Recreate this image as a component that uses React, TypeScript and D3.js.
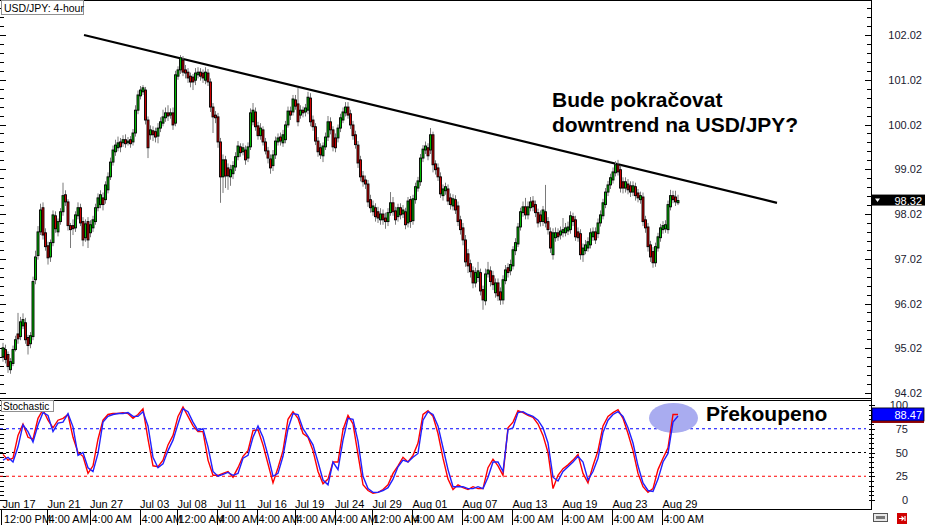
import React from 'react';
import * as d3 from 'd3';

// [open, high, low, close] per 4-hour bar
const candles: [number, number, number, number][] = [
  [94.83,95.14,94.72,95.03],[94.99,95.10,94.68,94.77],[94.88,94.95,94.47,94.61],[94.54,94.80,94.45,94.72],
  [94.68,95.08,94.62,94.99],[94.99,95.30,94.95,95.21],[95.34,95.81,95.12,95.23],[95.28,95.72,95.20,95.61],
  [95.52,95.80,95.45,95.66],[95.59,95.70,95.12,95.21],[95.26,95.32,94.88,95.08],[95.12,95.38,95.02,95.30],
  [95.28,96.62,95.20,96.51],[96.55,97.20,96.45,97.06],[97.09,97.75,97.00,97.62],[97.62,98.25,97.55,98.11],
  [98.16,98.28,97.45,97.55],[97.60,97.70,97.20,97.29],[97.31,97.40,96.89,97.04],[97.06,97.45,96.95,97.38],
  [97.38,98.10,97.30,98.00],[97.98,98.08,97.60,97.69],[97.62,97.92,97.52,97.85],[97.85,98.15,97.78,98.07],
  [98.07,98.72,97.98,98.43],[98.45,98.55,98.20,98.29],[98.29,98.35,97.65,97.76],[97.76,97.82,97.26,97.67],
  [97.76,97.90,97.55,97.69],[97.71,98.08,97.62,98.00],[97.98,98.28,97.90,98.16],[98.16,98.25,97.75,97.82],
  [97.85,97.95,97.30,97.44],[97.49,97.90,97.40,97.80],[97.85,97.95,97.26,97.44],[97.60,97.88,97.50,97.78],
  [97.71,97.98,97.62,97.89],[97.85,98.25,97.78,98.16],[98.16,98.48,98.08,98.38],[98.23,98.55,98.15,98.45],
  [98.38,98.50,98.10,98.23],[98.34,98.75,98.25,98.67],[98.56,98.95,98.48,98.85],[98.85,99.28,98.78,99.18],
  [99.18,99.55,99.10,99.45],[99.41,99.68,99.32,99.56],[99.50,99.75,99.42,99.61],[99.63,99.72,99.40,99.52],
  [99.61,99.78,99.52,99.68],[99.68,99.80,99.50,99.59],[99.61,99.74,99.55,99.65],[99.68,99.76,99.50,99.59],
  [99.63,99.92,99.55,99.83],[99.83,100.45,99.75,100.34],[100.34,100.78,100.25,100.68],[100.66,100.88,100.58,100.79],
  [100.75,100.90,100.68,100.84],[100.79,100.86,100.02,100.12],[100.12,100.20,99.27,99.50],[99.79,100.00,99.68,99.90],
  [99.88,99.98,99.65,99.79],[99.86,99.95,99.62,99.74],[99.76,100.05,99.60,99.94],[99.94,100.18,99.85,100.08],
  [100.05,100.35,99.98,100.19],[100.17,100.40,100.08,100.28],[100.28,100.45,100.10,100.21],[100.23,100.38,100.15,100.28],
  [100.28,100.40,99.90,100.01],[100.05,101.22,99.98,101.13],[101.10,101.32,101.02,101.24],[101.24,101.57,101.15,101.51],
  [101.46,101.55,101.10,101.19],[101.24,101.35,101.05,101.17],[101.19,101.28,100.95,101.06],[101.10,101.18,100.85,100.97],
  [101.08,101.15,100.79,100.97],[101.01,101.28,100.90,101.17],[101.13,101.30,101.05,101.19],[101.19,101.28,101.00,101.10],
  [101.17,101.25,100.95,101.06],[101.01,101.30,100.92,101.19],[101.17,101.26,100.88,100.97],[100.97,101.05,100.30,100.41],
  [100.41,100.50,99.83,100.19],[100.23,100.32,100.05,100.17],[100.19,100.28,99.50,99.63],[99.63,99.72,98.27,98.85],
  [98.85,99.35,98.49,99.23],[99.23,99.32,98.60,98.87],[99.05,99.15,98.56,98.87],[98.85,99.12,98.65,99.01],
  [98.92,99.20,98.80,99.10],[99.07,99.40,98.98,99.30],[99.30,99.65,99.22,99.54],[99.52,99.60,99.30,99.39],
  [99.41,99.60,99.33,99.50],[99.45,99.55,99.12,99.23],[99.27,99.62,99.18,99.52],[99.52,100.38,99.45,100.28],
  [100.08,100.50,100.00,100.34],[100.30,100.40,99.88,99.97],[99.99,100.08,99.68,99.77],[99.77,100.05,99.68,99.94],
  [99.90,99.98,99.55,99.63],[99.63,99.72,99.35,99.43],[99.43,99.52,99.15,99.27],[99.25,99.35,98.92,99.05],
  [99.10,99.45,98.98,99.34],[99.34,99.75,99.25,99.65],[99.63,99.82,99.55,99.72],[99.74,99.84,99.55,99.65],
  [99.61,99.90,99.52,99.79],[99.68,100.10,99.60,100.01],[100.01,100.42,99.95,100.32],[100.32,100.42,100.12,100.23],
  [100.30,100.68,100.22,100.59],[100.57,100.68,100.35,100.43],[100.48,100.84,99.98,100.08],[100.23,100.45,100.15,100.34],
  [100.34,100.42,100.18,100.28],[100.30,100.48,100.20,100.39],[100.34,100.75,100.25,100.63],[100.61,100.72,99.98,100.08],
  [100.12,100.22,99.88,99.97],[99.97,100.05,99.56,99.65],[99.65,99.74,99.30,99.41],[99.50,99.60,99.25,99.34],
  [99.32,99.62,99.18,99.54],[99.52,99.84,99.45,99.74],[99.74,100.21,99.65,100.08],[100.08,100.18,99.80,99.90],
  [99.90,99.98,99.42,99.52],[99.72,99.82,99.40,99.50],[99.72,100.02,99.62,99.94],[99.94,100.26,99.85,100.17],
  [100.12,100.40,100.05,100.30],[100.28,100.52,100.20,100.41],[100.41,100.52,100.15,100.23],[100.26,100.35,99.92,100.01],
  [100.01,100.10,99.68,99.77],[99.79,99.88,99.48,99.57],[99.56,99.65,99.05,99.16],[99.23,99.32,98.75,98.85],
  [98.87,98.98,98.63,98.74],[98.78,98.88,98.58,98.69],[98.69,98.78,98.18,98.29],[98.34,98.45,98.05,98.16],
  [98.07,98.32,97.98,98.20],[98.16,98.26,97.85,97.96],[98.07,98.18,97.82,97.93],[97.89,98.15,97.78,98.02],
  [98.02,98.12,97.78,97.89],[97.93,98.05,97.69,97.85],[97.85,98.15,97.75,98.05],[98.05,98.51,97.98,98.27],
  [98.27,98.40,97.98,98.07],[98.09,98.18,97.78,97.89],[97.96,98.25,97.85,98.16],[98.16,98.26,97.90,98.00],
  [98.02,98.22,97.93,98.11],[98.07,98.16,97.68,97.78],[97.82,98.40,97.72,98.31],[98.34,98.42,97.71,97.85],
  [97.87,98.45,97.78,98.36],[98.34,98.72,98.25,98.63],[98.60,98.85,98.52,98.76],[98.74,99.36,98.65,99.27],
  [99.27,99.56,99.18,99.47],[99.45,99.64,99.36,99.54],[99.50,99.60,99.22,99.32],[99.45,99.94,99.36,99.79],
  [99.79,99.86,98.95,99.12],[99.14,99.22,98.90,99.01],[99.05,99.15,98.76,98.85],[98.85,98.95,98.38,98.47],
  [98.43,98.68,98.32,98.58],[98.54,98.72,98.45,98.63],[98.58,98.68,98.22,98.31],[98.38,98.48,98.12,98.23],
  [98.20,98.46,98.10,98.36],[98.34,98.44,98.02,98.11],[98.20,98.30,97.75,97.85],[97.89,97.98,97.56,97.67],
  [97.71,97.82,97.32,97.44],[97.44,97.55,96.84,96.95],[97.13,97.24,96.70,96.86],[96.91,97.00,96.60,96.73],
  [96.75,96.85,96.36,96.48],[96.48,96.82,96.38,96.71],[96.60,96.95,96.50,96.75],[96.71,96.80,96.20,96.30],
  [96.33,96.42,95.88,96.10],[96.08,96.80,95.98,96.68],[96.68,96.95,96.60,96.77],[96.75,96.85,96.40,96.51],
  [96.64,96.75,96.32,96.44],[96.26,96.58,96.15,96.48],[96.48,96.58,96.08,96.19],[96.28,96.38,95.99,96.10],
  [96.10,96.65,96.00,96.55],[96.53,96.88,96.45,96.77],[96.82,96.92,96.60,96.71],[96.75,97.00,96.65,96.89],
  [96.86,97.30,96.78,97.22],[97.20,97.48,97.10,97.38],[97.35,97.82,97.28,97.73],[97.73,98.16,97.65,98.07],
  [98.05,98.30,97.96,98.18],[98.18,98.38,97.90,98.00],[98.00,98.30,97.90,98.18],[98.16,98.40,98.08,98.29],
  [98.31,98.42,98.08,98.18],[98.23,98.32,97.95,98.05],[98.05,98.14,97.72,97.82],[98.00,98.10,97.74,97.85],
  [97.85,98.20,97.75,98.11],[98.07,98.67,97.72,97.82],[97.85,97.95,97.56,97.67],[97.62,97.72,97.15,97.26],
  [97.11,97.70,97.00,97.60],[97.49,97.72,97.40,97.60],[97.60,97.70,97.42,97.51],[97.55,97.74,97.45,97.64],
  [97.60,97.93,97.50,97.67],[97.60,97.82,97.52,97.71],[97.64,97.85,97.55,97.73],[97.67,98.08,97.58,97.98],
  [97.96,98.05,97.75,97.85],[97.89,97.98,97.42,97.51],[97.62,97.72,97.40,97.49],[97.58,97.68,97.00,97.11],
  [97.11,97.36,96.95,97.26],[97.20,97.44,97.12,97.33],[97.26,97.50,97.18,97.40],[97.33,97.70,97.25,97.60],
  [97.51,97.72,97.42,97.62],[97.62,97.72,97.35,97.44],[97.58,97.92,97.48,97.82],[97.82,98.10,97.74,98.00],
  [97.98,98.36,97.90,98.27],[98.23,98.60,98.15,98.51],[98.51,98.76,98.42,98.67],[98.67,98.92,98.58,98.83],
  [98.78,99.06,98.70,98.96],[98.94,99.20,98.86,99.12],[99.12,99.23,98.88,98.96],[99.01,99.10,98.50,98.60],
  [98.74,98.84,98.48,98.60],[98.60,98.84,98.50,98.74],[98.69,98.80,98.46,98.56],[98.65,98.75,98.40,98.51],
  [98.51,98.75,98.42,98.65],[98.63,98.72,98.32,98.43],[98.49,98.58,98.28,98.38],[98.34,98.52,98.25,98.43],
  [98.40,98.50,97.75,97.85],[97.89,97.98,97.60,97.71],[97.73,97.82,97.18,97.29],[97.33,97.42,96.95,97.06],
  [97.18,97.28,96.82,96.93],[96.93,97.38,96.84,97.29],[97.26,97.60,97.18,97.51],[97.49,97.80,97.40,97.71],
  [97.67,97.86,97.58,97.76],[97.69,97.88,97.60,97.78],[97.67,98.32,97.58,98.23],[98.18,98.56,98.10,98.43],
  [98.43,98.54,98.26,98.34],[98.40,98.54,98.20,98.29],[98.27,98.45,98.22,98.32],
];

// Stochastic, one value every second bar
const stochMain = [
  42,45,40,56,79,72,61,79,92,89,72,81,82,91,77,47,50,34,30,49,
  82,88,90,91,91,92,88,88,93,78,45,34,38,52,63,80,96,93,82,73,
  75,56,30,25,27,29,26,28,44,47,66,78,66,47,25,28,46,75,91,90,
  75,67,58,40,21,16,40,32,63,86,85,62,25,12,8,8,10,13,22,35,
  42,40,45,49,84,93,90,78,55,32,14,14,14,12,12,14,12,24,40,40,
  30,74,76,92,93,90,88,84,76,60,24,20,30,35,40,46,40,21,30,44,
  71,84,90,93,88,76,60,36,18,10,9,22,40,49,82,88.47,
];
const stochSignal = [
  48,42,44,68,80,66,64,86,95,84,76,84,86,90,66,50,46,28,36,64,
  84,90,91,91,92,91,86,90,96,64,36,35,42,58,68,88,98,88,78,72,
  72,42,26,26,28,30,24,34,46,52,73,74,58,38,18,34,52,85,93,86,
  70,66,52,30,17,22,40,40,74,89,80,48,16,10,7,8,11,16,28,36,
  45,40,47,60,90,94,88,70,44,22,11,16,13,11,14,12,12,34,43,36,
  26,76,82,94,92,89,87,80,68,50,12,26,33,37,42,48,28,18,36,52,
  78,88,92,95,86,70,52,28,14,8,12,32,44,55,90,90,
];

const priceTickLabels = ['94.02','95.02','96.02','97.02','98.02','99.02','100.02','101.02','102.02'];
const stochTickLabels = ['0','25','50','75','100'];
const dateLabels = ['Jun 17','Jun 21','Jun 27','Jul 03','Jul 08','Jul 11','Jul 16','Jul 19','Jul 24','Jul 29','Aug 01','Aug 07','Aug 13','Aug 19','Aug 23','Aug 29'];
const timeLabels = ['12:00 PM','4:00 AM','4:00 AM','4:00 AM','12:00 AM','4:00 AM','4:00 AM','4:00 AM','4:00 AM','12:00 AM','4:00 AM','4:00 AM','4:00 AM','4:00 AM','4:00 AM','4:00 AM'];
const labelBars = [0,18,35,55,70,86,102,117,133,148,164,184,204,224,244,264];
const trendLine = [{ bar: 32.4, price: 102.02 }, { bar: 309.6, price: 98.27 }];
const lastPrice = 98.32;
const lastStoch = 88.47;

const FONT = "'Liberation Sans', Arial, sans-serif";

export default function App() {
  const W = 925, H = 525;
  const AX = 871;
  const x = d3.scaleLinear().domain([0, candles.length - 1]).range([3, 678]);
  const y = d3.scaleLinear().domain([94.02, 102.02]).range([393, 35]);
  const s = d3.scaleLinear().domain([0, 100]).range([500, 405]);
  const sx = (j: number) => x(j * 2);

  const mainLine = d3.line<number>().x((_, j) => sx(j)).y((v) => s(v));

  const minorPrice = d3.range(-1, 45).map((m) => 94.02 + m * 0.2).filter((p) => y(p) > 1 && y(p) < 397);
  const minorStoch = d3.range(0, 101, 5);

  const green = '#00b800';
  const red = '#cc0000';

  return (
    <svg width={W} height={H} style={{ position: 'absolute', left: 0, top: 0, background: '#fff' }} fontFamily={FONT}>
      <rect x={0} y={0} width={W} height={H} fill="#fff" />

      {/* frames */}
      <line x1={0} x2={AX} y1={0.5} y2={0.5} stroke="#000" />
      <line x1={0} x2={AX} y1={398.5} y2={398.5} stroke="#000" />
      <line x1={0} x2={AX} y1={400.5} y2={400.5} stroke="#000" />
      <line x1={0} x2={AX} y1={509.5} y2={509.5} stroke="#000" />
      <line x1={AX + 0.5} x2={AX + 0.5} y1={0} y2={510} stroke="#000" />

      {/* price ticks (left edge and right axis) */}
      {minorPrice.map((p, k) => {
        const major = Math.abs(((p - 94.02) % 1 + 1) % 1) < 0.01 || Math.abs(((p - 94.02) % 1 + 1) % 1 - 1) < 0.01;
        const yy = Math.round(y(p)) + 0.5;
        return (
          <g key={'pt' + k}>
            <line x1={0} x2={major ? 6 : 4} y1={yy} y2={yy} stroke="#000" />
            <line x1={AX - (major ? 6 : 4)} x2={AX} y1={yy} y2={yy} stroke="#000" />
          </g>
        );
      })}
      {priceTickLabels.map((t) => (
        <text key={t} x={922} y={y(+t) + 4} fontSize={11} textAnchor="end" fill="#1a1a30">{t}</text>
      ))}

      {/* stochastic ticks */}
      {minorStoch.map((v) => {
        const yy = Math.round(s(v)) + 0.5;
        const major = v % 25 === 0;
        return (
          <g key={'st' + v}>
            <line x1={0} x2={major ? 6 : 4} y1={yy} y2={yy} stroke="#000" />
            <line x1={AX - 2} x2={AX + (major ? 4 : 3)} y1={yy} y2={yy} stroke="#000" />
          </g>
        );
      })}
      {stochTickLabels.map((t) => (
        <text key={'sl' + t} x={908} y={s(+t) + 4} fontSize={11} textAnchor="end" fill="#1a1a30">{t}</text>
      ))}

      {/* trend line */}
      <line
        x1={x(trendLine[0].bar)} y1={y(trendLine[0].price)}
        x2={x(trendLine[1].bar)} y2={y(trendLine[1].price)}
        stroke="#000" strokeWidth={2.2}
      />

      {/* candles */}
      <g>
        {candles.map((c, i) => (
          <line key={'w' + i} x1={x(i)} x2={x(i)} y1={y(c[1])} y2={y(c[2])} stroke="#7a7a7a" strokeWidth={1} />
        ))}
        {candles.map((c, i) => {
          const top = y(Math.max(c[0], c[3]));
          const bot = y(Math.min(c[0], c[3]));
          return (
            <rect key={'b' + i} x={x(i) - 1} width={2} y={top} height={Math.max(1, bot - top)}
              fill={c[3] >= c[0] ? green : red} stroke="#000" strokeWidth={0.9} />
          );
        })}
      </g>

      {/* last price tag */}
      <rect x={AX + 1} y={y(lastPrice) - 6} width={W - AX - 1} height={11} fill="#000" />
      <path d={`M${AX + 4},${y(lastPrice) - 2} h5 l-2.5,3.5 z`} fill="#fff" />
      <text x={922} y={y(lastPrice) + 4} fontSize={11} textAnchor="end" fill="#fff">{lastPrice.toFixed(2)}</text>

      {/* annotation */}
      <text x={552} y={107} fontSize={21} fontWeight="bold" fill="#000">Bude pokračovat</text>
      <text x={552} y={132} fontSize={21} fontWeight="bold" fill="#000">downtrend na USD/JPY?</text>

      {/* title */}
      <rect x={1.5} y={0.5} width={82} height={14} fill="#fff" stroke="#909090" />
      <text x={4} y={11.5} fontSize={10.5} fill="#000">USD/JPY: 4-hour</text>

      {/* stochastic levels */}
      <line x1={0} x2={866} y1={s(75)} y2={s(75)} stroke="#0000ff" strokeDasharray="3,3" />
      <line x1={0} x2={866} y1={s(50)} y2={s(50)} stroke="#000" strokeDasharray="3,3" />
      <line x1={0} x2={866} y1={s(25)} y2={s(25)} stroke="#ff0000" strokeDasharray="3,3" />

      <ellipse cx={sx(stochMain.length - 1) - 4.5} cy={s(lastStoch) + 2} rx={24.5} ry={15} fill="#a9acf0" />

      <path d={mainLine(stochSignal) || ''} fill="none" stroke="#ff0000" strokeWidth={1.4} />
      <path d={mainLine(stochMain) || ''} fill="none" stroke="#2020ff" strokeWidth={1.4} />

      <text x={706} y={421} fontSize={21} fontWeight="bold" fill="#000">Překoupeno</text>

      <rect x={1.5} y={400.5} width={52} height={11} fill="#fff" stroke="#909090" />
      <text x={3} y={409.5} fontSize={10} fill="#000">Stochastic</text>

      {/* stochastic value tag */}
      <rect x={AX + 1} y={s(lastStoch) - 8} width={W - AX - 2} height={13} fill="#0000ff" stroke="#000" strokeWidth={0.8} />
      <rect x={AX + 1} y={s(lastStoch) + 5} width={W - AX - 2} height={2} fill="#8b0000" />
      <text x={922} y={s(lastStoch) + 3} fontSize={11} textAnchor="end" fill="#fff">{lastStoch.toFixed(2)}</text>

      {/* date labels */}
      {dateLabels.map((d, k) => (
        <text key={'d' + k} x={x(labelBars[k]) - 0.5} y={508} fontSize={11} fill="#000">{d}</text>
      ))}
      {timeLabels.map((t, k) => {
        const xx = k === 0 ? 1.5 : Math.round(x(labelBars[k]) - 1) + 0.5;
        return (
          <g key={'t' + k}>
            <line x1={xx} x2={xx} y1={510} y2={525} stroke="#000" />
            <text x={k === 0 ? 4 : xx + 1} y={523} fontSize={11} fill="#000">{t}</text>
          </g>
        );
      })}

      {/* small icons bottom-right */}
      <rect x={873.5} y={513.5} width={14} height={8} fill="#e8e8e8" stroke="#555" />
      <rect x={876} y={516} width={9} height={3} fill="#777" />
      <rect x={897} y={513} width={10} height={11} fill="#d00000" />
      <path d="M899,518.5 h4 M901.5,516.5 l2,2 l-2,2 M905,516 v5" stroke="#fff" strokeWidth={1.2} fill="none" />
    </svg>
  );
}
